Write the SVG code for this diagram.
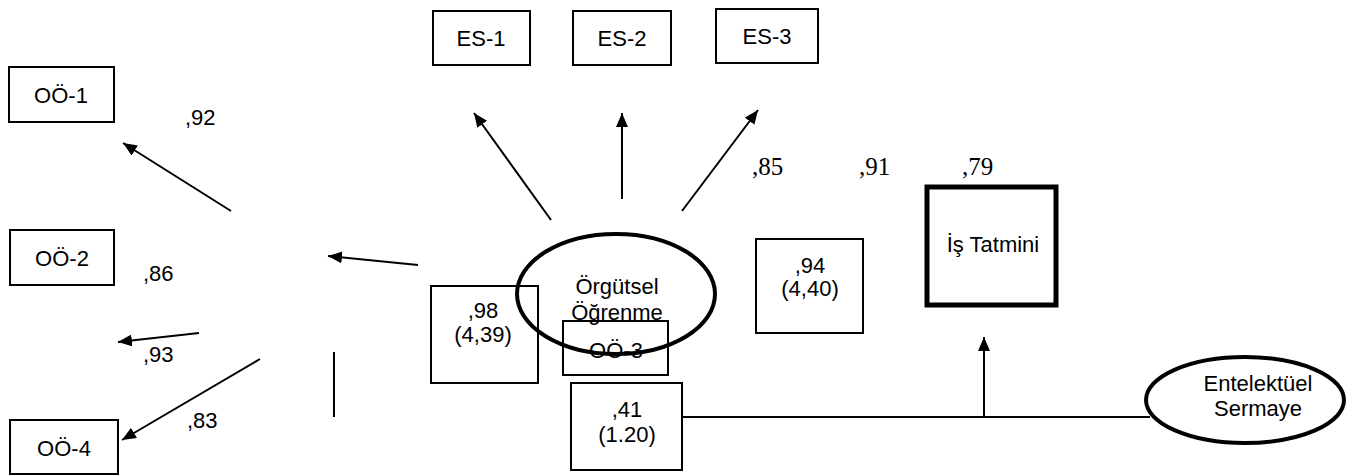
<svg xmlns="http://www.w3.org/2000/svg" width="1349" height="475" viewBox="0 0 1349 475">
<style>
.box{fill:none;stroke:#000;stroke-width:2}
.lbl{font-family:"Liberation Sans",Arial,sans-serif;font-size:22px;fill:#000;text-anchor:middle}
.num{font-family:"Liberation Sans",Arial,sans-serif;font-size:22px;fill:#000}
.tnum{font-family:"Liberation Serif","Times New Roman",serif;font-size:25px;fill:#000}
.con{fill:none;stroke:#000;stroke-width:2}
.arr{fill:none;stroke:#000;stroke-width:2;marker-end:url(#ah)}
</style>
<defs>
<marker id="ah" markerUnits="userSpaceOnUse" markerWidth="16" markerHeight="14" refX="14" refY="6" orient="auto">
<path d="M0,0 L14,6 L0,12 z" fill="#000"/>
</marker>
</defs>
<rect width="1349" height="475" fill="#fff"/>
<g id="oo1"><rect class="box" x="9" y="67" width="105" height="55"/><text class="lbl" x="61" y="103">OÖ-1</text></g>
<g id="oo2"><rect class="box" x="10" y="230" width="104" height="55"/><text class="lbl" x="62" y="266">OÖ-2</text></g>
<g id="oo4"><rect class="box" x="10" y="420" width="108" height="54"/><text class="lbl" x="64" y="456">OÖ-4</text></g>
<g id="es1"><rect class="box" x="433" y="11" width="97" height="54"/><text class="lbl" x="481" y="46">ES-1</text></g>
<g id="es2"><rect class="box" x="573" y="11" width="98" height="54"/><text class="lbl" x="622" y="46">ES-2</text></g>
<g id="es3"><rect class="box" x="716" y="9" width="102" height="54"/><text class="lbl" x="767" y="44">ES-3</text></g>
<g id="b98"><rect class="box" x="431" y="286" width="107" height="97"/><text class="lbl" x="483" y="318">,98</text><text class="lbl" x="483" y="342">(4,39)</text></g>
<g id="oo3"><rect class="box" x="563" y="321" width="105" height="54"/><text class="lbl" x="616" y="358">OÖ-3</text></g>
<g id="org"><ellipse cx="616" cy="294" rx="99" ry="60" fill="none" stroke="#000" stroke-width="4"/><text class="lbl" x="617" y="294">Örgütsel</text><text class="lbl" x="617" y="320">Öğrenme</text></g>
<g id="b41"><rect class="box" x="571" y="383" width="111" height="87"/><text class="lbl" x="627" y="417">,41</text><text class="lbl" x="627" y="442">(1.20)</text></g>
<g id="b94"><rect class="box" x="756" y="239" width="107" height="94"/><text class="lbl" x="810" y="273">,94</text><text class="lbl" x="810" y="296">(4,40)</text></g>
<g id="ist"><rect x="927" y="187" width="129" height="118" fill="none" stroke="#000" stroke-width="5"/><text class="lbl" x="993" y="252">İş Tatmini</text></g>
<g id="ent"><ellipse cx="1245" cy="400" rx="99" ry="43" fill="none" stroke="#000" stroke-width="4"/><text class="lbl" x="1258" y="391">Entelektüel</text><text class="lbl" x="1258" y="416">Sermaye</text></g>
<g id="connectors">
<line class="arr" x1="231" y1="211" x2="123" y2="143"/>
<line class="arr" x1="418" y1="265" x2="328" y2="256"/>
<line class="arr" x1="199" y1="333" x2="118" y2="342"/>
<line class="arr" x1="260" y1="359" x2="122" y2="440"/>
<line class="con" x1="334" y1="352" x2="334" y2="417"/>
<line class="arr" x1="551" y1="220" x2="474" y2="113"/>
<line class="arr" x1="622" y1="199" x2="622" y2="113"/>
<line class="arr" x1="682" y1="211" x2="758" y2="110"/>
<line class="con" x1="682" y1="417" x2="1150" y2="417"/>
<line class="arr" x1="984" y1="417" x2="984" y2="337"/>
</g>
<g id="labels">
<text class="num" x="185" y="125">,92</text>
<text class="num" x="143" y="281">,86</text>
<text class="num" x="143" y="362">,93</text>
<text class="num" x="187" y="428">,83</text>
<text class="tnum" x="752" y="175">,85</text>
<text class="tnum" x="859" y="175">,91</text>
<text class="tnum" x="962" y="175">,79</text>
</g>
</svg>
